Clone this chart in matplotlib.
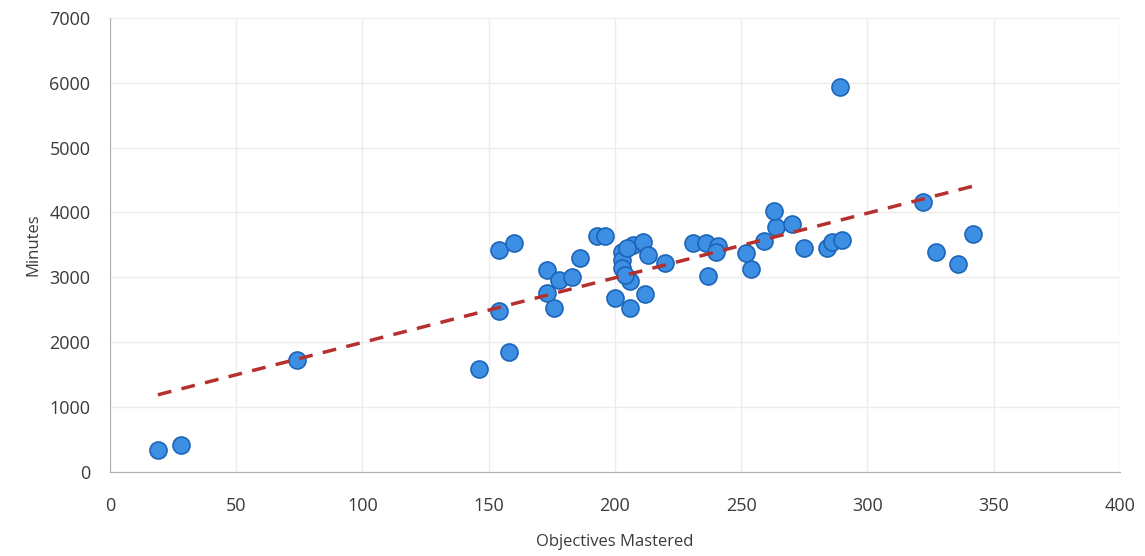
import numpy as np
import matplotlib.pyplot as plt

# Objectives mastered vs minutes
objectives = [19, 28, 74, 146, 154, 154, 158, 160, 173, 173, 176, 178, 183, 186,
              193, 196, 200, 206, 212, 206, 203, 203, 203, 204, 207, 211, 213, 205,
              220, 231, 236, 241, 240, 237, 254, 252, 259, 264, 263, 270, 275, 284,
              286, 290, 289, 322, 327, 336, 342]
minutes = [340, 420, 1720, 1590, 2480, 3420, 1850, 3530, 3110, 2760, 2530, 2960, 3000, 3300,
           3640, 3640, 2680, 2530, 2740, 2940, 3390, 3270, 3140, 3030, 3500, 3540, 3340, 3450,
           3220, 3530, 3530, 3480, 3390, 3020, 3130, 3370, 3560, 3770, 4020, 3820, 3450, 3450,
           3540, 3570, 5930, 4160, 3390, 3200, 3670]

x = np.array(objectives, dtype=float)
y = np.array(minutes, dtype=float)

plt.rcParams['font.family'] = ['Open Sans', 'DejaVu Sans']

fig = plt.figure(figsize=(11.45, 5.56), dpi=100)
ax = fig.add_axes([0.096, 0.151, 0.882, 0.817])

ax.scatter(x, y, s=150, color='#3d8fe3', edgecolors='#1c64b8', linewidths=1.2, zorder=3)

# linear trendline
a, b = np.polyfit(x, y, 1)
xx = np.linspace(x.min(), x.max(), 100)
ax.plot(xx, a * xx + b, color='#b5302e', linestyle=(0, (4, 3)), linewidth=2.5, zorder=4)

ax.set_xlim(0, 400)
ax.set_ylim(0, 7000)
ax.set_xticks(range(0, 401, 50))
ax.set_yticks(range(0, 7001, 1000))
ax.grid(True, color='#ececec', linewidth=1)
ax.set_axisbelow(True)
for s in ['top', 'right']:
    ax.spines[s].set_visible(False)
ax.spines['left'].set_color('#b0b0b0')
ax.spines['bottom'].set_color('#b0b0b0')
ax.tick_params(length=0, labelsize=13, colors='#3a3a3a')
ax.tick_params(axis='x', pad=18)
ax.tick_params(axis='y', pad=14)
ax.set_xlabel("Objectives Mastered", fontsize=12, color='#3a3a3a', labelpad=14)
ax.set_ylabel("Minutes", fontsize=12, color='#3a3a3a', labelpad=6)

plt.savefig("out.png")
